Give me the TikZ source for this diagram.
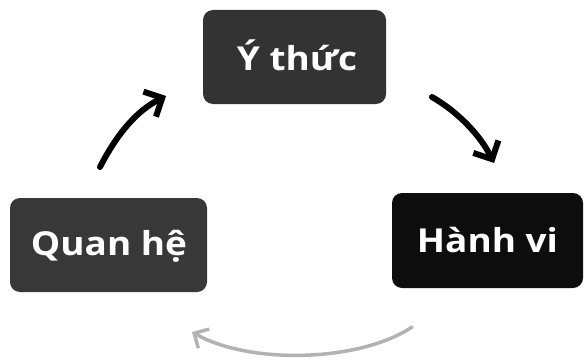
\documentclass[tikz,border=0pt]{standalone}
\usepackage{fontspec}
\setmainfont{Open Sans}
\usetikzlibrary{arrows.meta}
\begin{document}
\begin{tikzpicture}[x=1pt,y=-1pt,
  box/.style={text=white, font=\bfseries\fontsize{33}{36}\selectfont, inner sep=0pt, xscale=1.12, transform shape},
  arr/.style={line width=6pt, line cap=round, -{Straight Barb[length=14pt,width=28pt,line width=6pt]}},
  lightarr/.style={line width=3.5pt, line cap=round, draw=black!30, -{Straight Barb[length=11pt,width=22pt,line width=3.5pt]}}]
\useasboundingbox (0,0) rectangle (588,361);
\fill[black!80, rounded corners=10pt] (203,10) rectangle (386,104);
\node[box] (y) at (297,55) {Ý thức};
\fill[black!78, rounded corners=10pt] (10,198) rectangle (207,292);
\node[box] (q) at (109,246) {Quan hệ};
\fill[black!95, rounded corners=10pt] (392,193) rectangle (583,288);
\node[box] (h) at (487.5,240) {Hành vi};
\coordinate (a1s) at (100,167);
\coordinate (a1e) at (166,96);
\coordinate (a2s) at (432,97);
\coordinate (a2e) at (494,163);
\coordinate (a3s) at (412,327);
\coordinate (a3e) at (192,332);
\draw[arr] (a1s) .. controls (118,132) and (138,110) .. (a1e);
\draw[arr] (a2s) .. controls (458,112) and (480,135) .. (a2e);
\draw[lightarr] (a3s) .. controls (360,362) and (250,365) .. (a3e);
\end{tikzpicture}
\end{document}
